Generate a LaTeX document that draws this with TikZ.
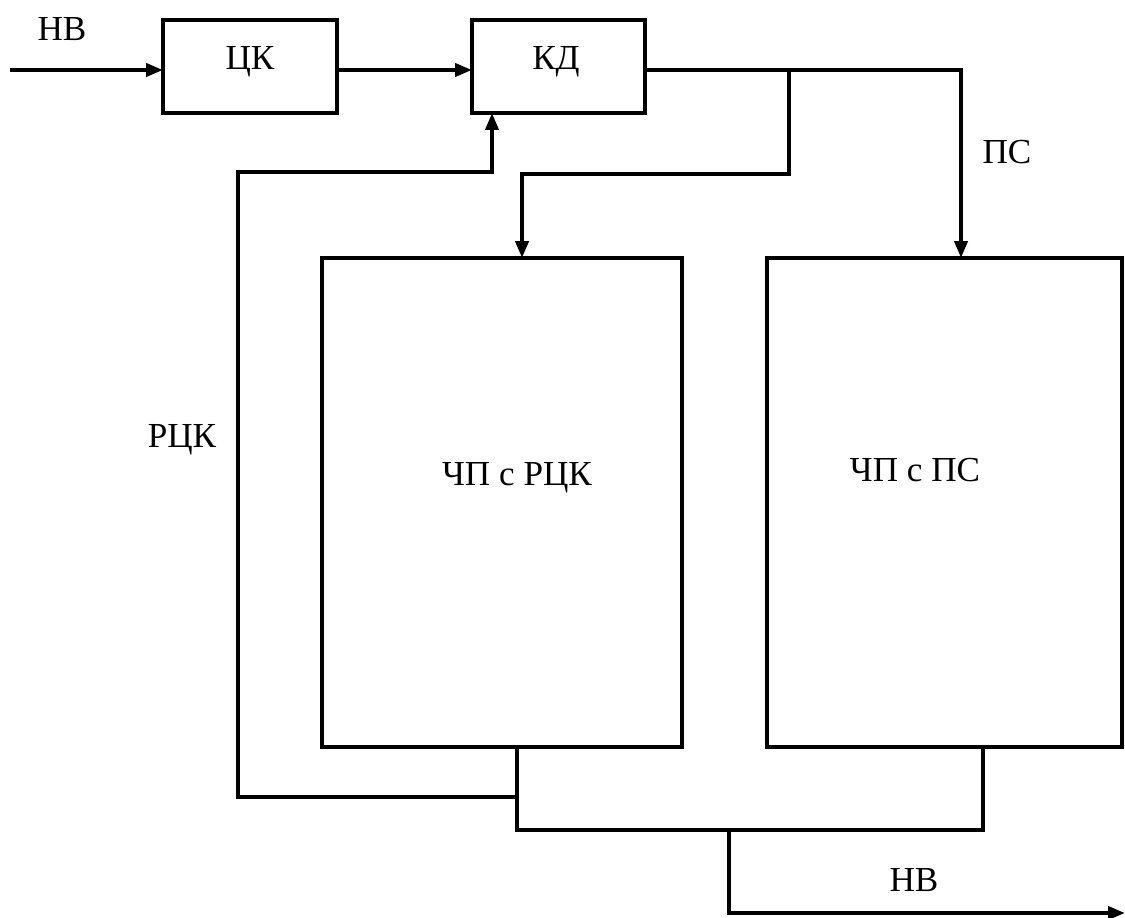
\documentclass[tikz,border=0pt]{standalone}
\usepackage{fontspec}
\setmainfont{Liberation Serif}
\usetikzlibrary{arrows.meta}
\begin{document}
\begin{tikzpicture}[x=0.02cm,y=-0.02cm,
  line width=0.08cm,
  >={Triangle[length=0.34cm,width=0.26cm]},
  box/.style={draw, inner sep=0pt, outer sep=0pt},
  txt/.style={inner sep=0pt, font=\fontsize{20}{24}\selectfont},
  wire/.style={line cap=rect, line join=miter}]
\useasboundingbox (0,0) rectangle (1125,918);
% boxes
\node[box, minimum width=3.48cm, minimum height=1.86cm] (ck) at (250,66.5) {};
\node[box, minimum width=3.46cm, minimum height=1.86cm] (kd) at (558.5,66.5) {};
\node[box, minimum width=7.2cm, minimum height=9.78cm] (rck) at (502,502.5) {};
\node[box, minimum width=7.1cm, minimum height=9.78cm] (ps) at (944.5,502.5) {};
% texts
\node[txt] (tck) at (250,62) {ЦК};
\node[txt] (tkd) at (556,62) {КД};
\node[txt] (trck) at (517,478) {ЧП с РЦК};
\node[txt] (tps) at (915,470) {ЧП с ПС};
\node[txt] (lin) at (62,29) {НВ};
\node[txt] (lps) at (1007,152) {ПС};
\node[txt] (lrck) at (182,440) {РЦК};
\node[txt] (lout) at (914,880) {НВ};
% coordinates
\coordinate (in) at (10,70);
\coordinate (split) at (789,70);
\coordinate (psx) at (961,70);
\coordinate (br) at (789,174);
\coordinate (brl) at (522,174);
\coordinate (fbb) at (517,797);
\coordinate (fbl) at (238,797);
\coordinate (fbt) at (238,172);
\coordinate (fbr) at (492,172);
\coordinate (rckout) at (517,830);
\coordinate (psout) at (983,830);
\coordinate (mid) at (729,830);
\coordinate (outc) at (729,913);
\coordinate (out) at (1125,913);
% connectors
\draw[->] (in) -- (in -| ck.west);
\draw[->] (ck.east |- 0,70) -- (kd.west |- 0,70);
\draw[wire,->] (kd.east |- 0,70) -- (psx) -- (psx |- ps.north);
\draw[wire,->] (split) -- (br) -- (brl) -- (brl |- rck.north);
\draw[wire,->] (fbb) -- (fbl) -- (fbt) -- (fbr) -- (fbr |- kd.south);
\draw[wire] (rckout |- rck.south) -- (rckout) -- (psout) -- (psout |- ps.south);
\draw[wire,->] (mid) -- (outc) -- (out);
\end{tikzpicture}
\end{document}
